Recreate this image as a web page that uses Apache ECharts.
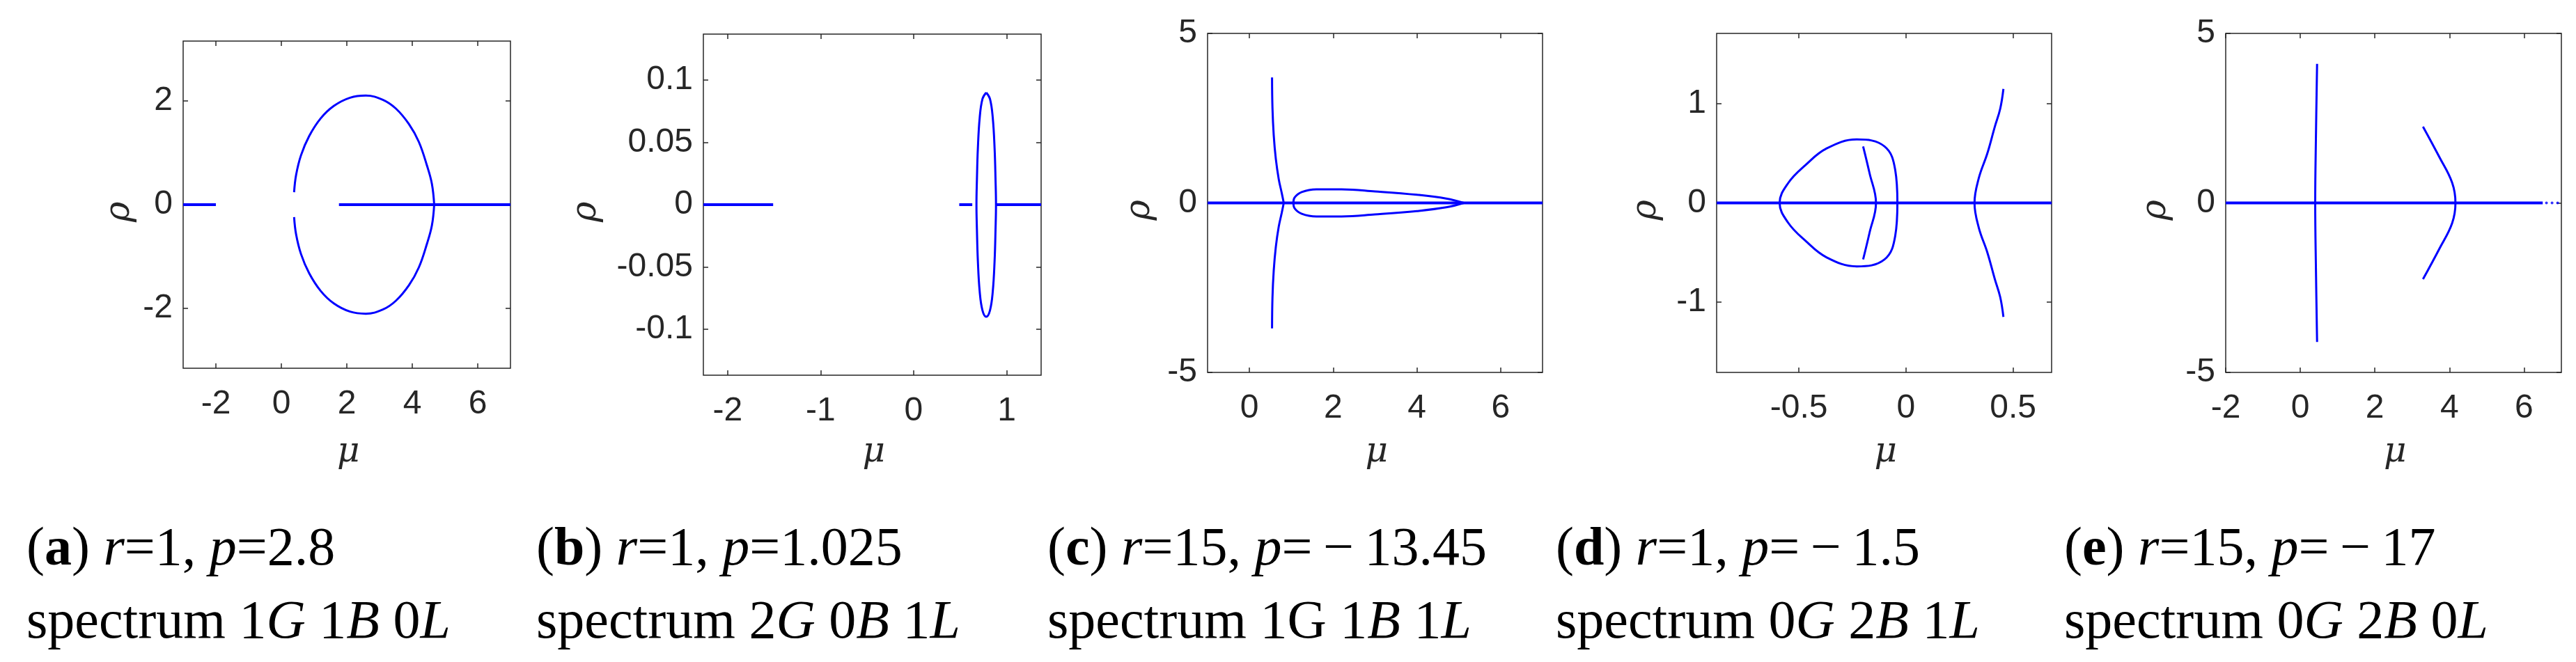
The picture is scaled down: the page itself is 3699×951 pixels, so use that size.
<!DOCTYPE html>
<html><head><meta charset="utf-8">
<script src="https://cdn.jsdelivr.net/npm/echarts@6/dist/echarts.min.js"></script>
<style>html,body{margin:0;padding:0;background:#fff}#c{width:3699px;height:951px}</style>
</head><body><div id="c"></div>
<script>
// ---------- data ----------
const xTicksA=[-2,0,2,4,6], yTicksA=[-2,0,2];
const xTicksB=[-2,-1,0,1], yTicksB=[-0.1,-0.05,0,0.05,0.1];
const xTicksC=[0,2,4,6], yTicksC=[-5,0,5];
const xTicksD=[-0.5,0,0.5], yTicksD=[-1,0,1];
const xTicksE=[-2,0,2,4,6], yTicksE=[-5,0,5];

const aLineL=[[-3,0],[-2,0]];
const aLineR=[[1.76,0],[7,0]];
const aUpper=[[0.39,0.24],[0.45,0.57],[0.6,0.95],[0.85,1.32],[1.2,1.66],[1.6,1.9],[2.1,2.06],[2.58,2.1],[3.1,2.02],[3.5,1.85],[3.9,1.55],[4.2,1.21],[4.45,0.75],[4.6,0.4],[4.67,0]];
const aLower=[[0.39,-0.24],[0.45,-0.57],[0.6,-0.95],[0.85,-1.32],[1.2,-1.66],[1.6,-1.9],[2.1,-2.06],[2.58,-2.1],[3.1,-2.02],[3.5,-1.85],[3.9,-1.55],[4.2,-1.21],[4.45,-0.75],[4.6,-0.4],[4.67,0]];

const bLineL=[[-2.26,0],[-1.51,0]];
const bLineM=[[0.49,0],[0.63,0]];
const bLineR=[[0.88,0],[1.37,0]];
const bEllipse=[[0.78,0.09],[0.82,0.085],[0.85,0.07],[0.87,0.045],[0.88,0.02],[0.885,0],[0.88,-0.02],[0.87,-0.045],[0.85,-0.07],[0.82,-0.085],[0.78,-0.09],[0.74,-0.085],[0.71,-0.07],[0.69,-0.045],[0.68,-0.02],[0.675,0],[0.68,0.02],[0.69,0.045],[0.71,0.07],[0.74,0.085],[0.78,0.09]];

const cLine=[[-1,0],[7,0]];
const cUpper=[[0.54,3.7],[0.55,2.8],[0.58,2.0],[0.63,1.3],[0.7,0.7],[0.77,0.3],[0.82,0]];
const cLower=[[0.54,-3.7],[0.55,-2.8],[0.58,-2.0],[0.63,-1.3],[0.7,-0.7],[0.77,-0.3],[0.82,0]];
const cLoop=[[5.12,0],[4.7,0.13],[4.0,0.24],[3.0,0.34],[2.2,0.4],[1.6,0.4],[1.25,0.32],[1.08,0.16],[1.05,0],[1.08,-0.16],[1.25,-0.32],[1.6,-0.4],[2.2,-0.4],[3.0,-0.34],[4.0,-0.24],[4.7,-0.13],[5.12,0]];

const dLine=[[-0.884,0],[0.68,0]];
const dLoop=[[-0.04,0],[-0.05,0.33],[-0.1,0.57],[-0.23,0.64],[-0.37,0.55],[-0.47,0.38],[-0.55,0.2],[-0.59,0],[-0.55,-0.2],[-0.47,-0.38],[-0.37,-0.55],[-0.23,-0.64],[-0.1,-0.57],[-0.05,-0.33],[-0.04,0]];
const dArc=[[-0.2,0.57],[-0.17,0.3],[-0.14,0],[-0.17,-0.3],[-0.2,-0.57]];
const dRight=[[0.455,1.15],[0.44,0.95],[0.415,0.77],[0.38,0.5],[0.34,0.25],[0.32,0],[0.34,-0.25],[0.38,-0.5],[0.415,-0.77],[0.44,-0.95],[0.455,-1.15]];

const eLine=[[-2,0],[6.5,0]];
const eDots=[[6.6,0],[6.75,0],[6.9,0]];
const eVert=[[0.45,4.1],[0.42,2],[0.4,0],[0.42,-2],[0.45,-4.1]];
const eArc=[[3.29,2.25],[3.73,1.35],[4.07,0.6],[4.16,0],[4.07,-0.6],[3.73,-1.35],[3.29,-2.25]];

const captionLabels=['a','b','c','d','e'];
const captionR=['1','1','15','1','15'];
const captionP=['2.8','1.025','\u2009\u2212\u200913.45','\u2009\u2212\u20091.5','\u2009\u2212\u200917'];
const captionGBL=[['1','1','0'],['2','0','1'],['1','1','1'],['0','2','1'],['0','2','0']];

// ---------- chart ----------
const panels=[
 {g:[263,59,470,470],x:[-3,7],y:[-3.15,3.15],xt:xTicksA,yt:yTicksA,series:[[aLineL,0,4],[aLineR,0,4],[aUpper,1,3],[aLower,1,3]],rho:172},
 {g:[1010,49,485,490],x:[-2.26,1.37],y:[-0.137,0.137],xt:xTicksB,yt:yTicksB,series:[[bLineL,0,4],[bLineM,0,4],[bLineR,0,4],[bEllipse,1,3]],rho:842},
 {g:[1734,48,481,487],x:[-1,7],y:[-5,5],xt:xTicksC,yt:yTicksC,series:[[cLine,0,4],[cUpper,1,3],[cLower,1,3],[cLoop,1,3]],rho:1637},
 {g:[2465,48,481,487],x:[-0.884,0.68],y:[-1.71,1.71],xt:xTicksD,yt:yTicksD,series:[[dLine,0,4],[dLoop,1,3],[dArc,1,3],[dRight,1,3]],rho:2364},
 {g:[3196,48,482,487],x:[-2,7],y:[-5,5],xt:xTicksE,yt:yTicksE,series:[[eLine,0,4],[eVert,1,3],[eArc,1,3]],rho:3096}
];
const lab={fontFamily:'Liberation Sans, Arial',fontSize:48,color:'#262626'};
const option={animation:false,grid:[],xAxis:[],yAxis:[],series:[],graphic:[]};
panels.forEach((p,i)=>{
  option.grid.push({left:p.g[0],top:p.g[1],width:p.g[2],height:p.g[3],show:true,borderColor:'#262626',borderWidth:1.5,backgroundColor:'#fff'});
  const tick={show:true,inside:true,length:7,lineStyle:{color:'#262626',width:1.5}};
  for(const pos of ['bottom','top']){
    option.xAxis.push({type:'value',gridIndex:i,position:pos,min:p.x[0],max:p.x[1],splitLine:{show:false},
      axisLine:{show:false,onZero:false},axisTick:Object.assign({customValues:p.xt},tick),
      axisLabel:pos==='bottom'?Object.assign({customValues:p.xt,margin:28},lab):{show:false}});
  }
  for(const pos of ['left','right']){
    option.yAxis.push({type:'value',gridIndex:i,position:pos,min:p.y[0],max:p.y[1],splitLine:{show:false},
      axisLine:{show:false,onZero:false},axisTick:Object.assign({customValues:p.yt},tick),
      axisLabel:pos==='left'?Object.assign({customValues:p.yt,margin:15},lab):{show:false}});
  }
  p.series.forEach(s=>{
    option.series.push({type:'line',xAxisIndex:2*i,yAxisIndex:2*i,data:s[0],smooth:s[1]?0.4:false,symbol:'none',
      lineStyle:{color:'#0000ff',width:s[2]},z:3});
  });
  option.graphic.push({type:'text',left:p.g[0]+p.g[2]/2-14,top:625,style:{text:'μ',font:'italic 50px "DejaVu Serif"',fill:'#262626'}});
  option.graphic.push({type:'text',x:p.rho-25,y:p.g[1]+p.g[3]/2+25,rotation:Math.PI/2,style:{text:'ρ',font:'italic 50px "DejaVu Serif"',fill:'#262626'}});
});
option.series.push({type:'scatter',xAxisIndex:8,yAxisIndex:8,data:eDots,symbolSize:4,itemStyle:{color:'#0000ff'}});

const capX=[38,770,1504,2234,2964];
const F='Liberation Serif';
const rich={n:{fontFamily:F,fontSize:78,color:'#111'},b:{fontFamily:F,fontSize:78,fontWeight:'bold',color:'#111'},i:{fontFamily:F,fontSize:78,fontStyle:'italic',color:'#111'}};
captionLabels.forEach((c,k)=>{
  const g=captionGBL[k];
  const cG = k===2 ? '{n|G}' : '{i|G}';
  option.graphic.push({type:'text',left:capX[k],top:738,style:{rich:rich,
    text:'{n|(}{b|'+c+'}{n|) }{i|r}{n|='+captionR[k]+', }{i|p}{n|='+captionP[k]+'}\n{n|spectrum '+g[0]+'}'+cG+'{n| '+g[1]+'}{i|B}{n| '+g[2]+'}{i|L}',lineHeight:105}});
});
const chart=echarts.init(document.getElementById('c'));
chart.setOption(option);
</script></body></html>
